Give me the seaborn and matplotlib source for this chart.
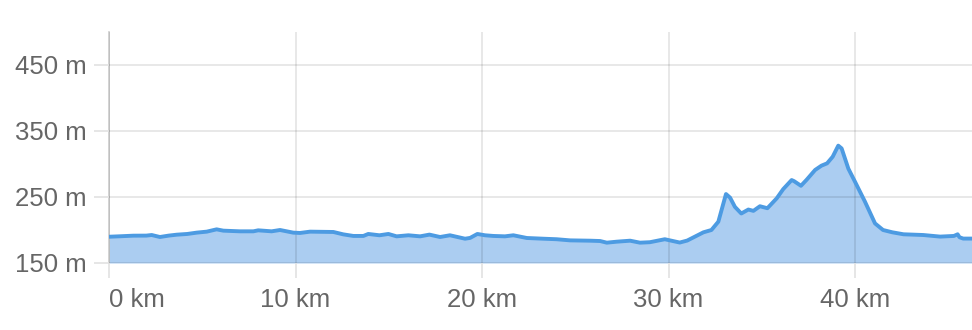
import matplotlib
matplotlib.use("Agg")
import matplotlib.pyplot as plt
import seaborn as sns
import pandas as pd

# distance along the route (km) and elevation (m)
distance_km = [0.0, 0.6, 1.3, 2.0, 2.29, 2.73, 3.2, 3.63, 4.2, 4.7, 5.24, 5.77, 6.13, 7.02,
               7.74, 8.0, 8.72, 9.17, 9.88, 10.24, 10.78, 12.03, 12.56, 13.1, 13.64, 13.9,
               14.5, 14.98, 15.42, 16.05, 16.68, 17.18, 17.75, 18.28, 19.09, 19.36, 19.75,
               20.16, 20.6, 21.23, 21.68, 22.4, 23.29, 24.0, 24.72, 25.8, 26.33, 26.69,
               27.22, 27.94, 28.47, 29.0, 29.8, 30.6, 31.0, 31.87, 32.3, 32.67, 33.08,
               33.3, 33.56, 33.9, 34.28, 34.55, 34.9, 35.3, 35.8, 36.15, 36.6, 36.73,
               37.1, 37.4, 37.86, 38.2, 38.5, 38.8, 39.1, 39.28, 39.64, 40.0, 40.53,
               41.07, 41.5, 42.0, 42.6, 43.66, 44.56, 45.3, 45.5, 45.6, 45.8, 46.27]
elevation_m = [189.8, 190.5, 191.4, 191.5, 192.4, 189.4, 191.5, 192.9, 194.0, 196.0, 197.5,
               201.0, 199.0, 198.0, 198.0, 199.5, 198.0, 200.0, 196.0, 195.5, 197.5, 197.0,
               193.4, 191.0, 191.0, 194.0, 192.0, 194.0, 190.4, 192.0, 190.4, 193.0, 189.4,
               192.0, 186.8, 188.0, 194.0, 192.0, 191.0, 190.4, 192.0, 187.9, 186.8, 186.0,
               184.3, 183.8, 183.3, 180.8, 182.3, 183.8, 180.8, 181.5, 186.0, 181.0, 184.0,
               196.5, 200.0, 212.6, 254.5, 249.0, 235.0, 225.0, 231.0, 229.0, 236.0, 233.0,
               248.0, 262.0, 275.7, 274.0, 267.0, 276.0, 291.0, 297.5, 301.0, 311.0, 327.8,
               323.6, 293.0, 273.0, 243.0, 210.0, 200.0, 196.5, 193.5, 192.4, 190.0, 191.0,
               193.5, 189.0, 187.0, 187.0]

y_ticks = [150, 250, 350, 450]
y_tick_labels = ["150 m", "250 m", "350 m", "450 m"]
x_ticks = [0, 10, 20, 30, 40]
x_tick_labels = ["0 km", "10 km", "20 km", "30 km", "40 km"]

df = pd.DataFrame({"km": distance_km, "ele": elevation_m})

sns.set_theme(style="white")
plt.rcParams["font.family"] = ["Liberation Sans", "DejaVu Sans"]

fig = plt.figure(figsize=(9.72, 3.30), dpi=100)
ax = fig.add_axes([109 / 972, 67 / 330, 1 - 109 / 972, 231 / 330])

line_col = "#4d9be2"
fill_col = "#abcdf1"

ax.fill_between(df["km"], df["ele"], 150, color=fill_col, linewidth=0, zorder=1)
sns.lineplot(data=df, x="km", y="ele", ax=ax, color=line_col, linewidth=2.8,
             zorder=3, estimator=None, sort=False)
for ln in ax.lines:
    ln.set_solid_joinstyle("round")
    ln.set_solid_capstyle("round")

ax.set_xlim(0, 46.27)
ax.set_ylim(150, 500)
ax.set_xlabel("")
ax.set_ylabel("")

ax.set_yticks(y_ticks)
ax.set_yticklabels(y_tick_labels)
ax.set_xticks(x_ticks)
ax.set_xticklabels(x_tick_labels)
ax.get_xticklabels()[0].set_horizontalalignment("left")

ax.set_axisbelow(False)
ax.grid(True, color="black", alpha=0.11, linewidth=1.2)
ax.tick_params(axis="both", which="major", length=11, width=1.2, color="#e2e2e2",
               labelcolor="#666666", labelsize=18.5)
ax.tick_params(axis="y", pad=5)
ax.tick_params(axis="x", pad=7)
ax.tick_params(left=True, bottom=True)

for side in ["top", "right", "bottom"]:
    ax.spines[side].set_visible(False)
ax.spines["left"].set_color("#cccccc")
ax.spines["left"].set_linewidth(1.2)

fig.savefig("out.png", dpi=100)
